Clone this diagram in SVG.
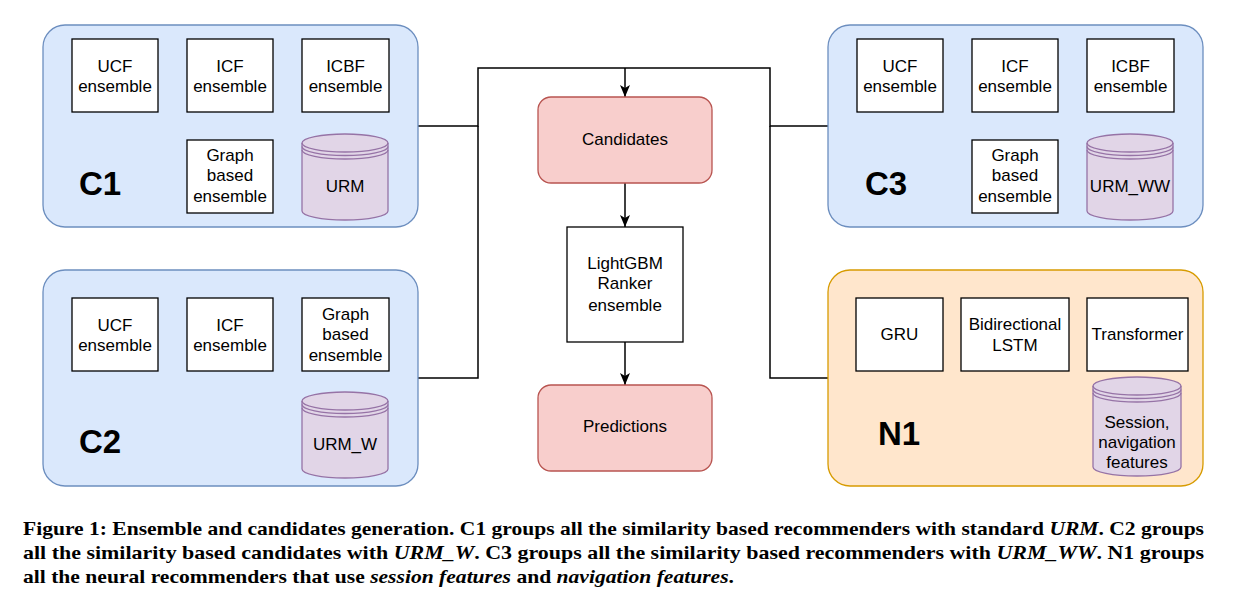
<svg xmlns="http://www.w3.org/2000/svg" width="1236" height="598" viewBox="0 0 1236 598">
<style>
.grpB{fill:#dae8fc;stroke:#6c8ebf;stroke-width:1.3}
.grpO{fill:#ffe6cc;stroke:#d79b00;stroke-width:1.3}
.box{fill:#ffffff;stroke:#000000;stroke-width:1.3}
.red{fill:#f8cecc;stroke:#b85450;stroke-width:1.3}
.cyl{fill:#e1d5e7;stroke:#9673a6;stroke-width:1.3}
.cylL{fill:none;stroke:#9673a6;stroke-width:1.3}
.t{font-family:"Liberation Sans",Arial,sans-serif;font-size:17px;fill:#000;text-anchor:middle}
.big{font-family:"Liberation Sans",Arial,sans-serif;font-size:33px;font-weight:bold;fill:#000}
.conn{fill:none;stroke:#000;stroke-width:1.5}
.cap{font-family:"Liberation Serif","Times New Roman",serif;font-size:19px;font-weight:bold;fill:#000}
</style>
<defs>
<marker id="arrow" viewBox="0 0 12 10" refX="12" refY="5" markerWidth="12" markerHeight="10" markerUnits="userSpaceOnUse" orient="auto">
<path d="M0,0 L12,5 L0,10 L3,5 Z" fill="#000"/>
</marker>
</defs>
<rect width="1236" height="598" fill="#ffffff"/>

<g id="connectors">
<path class="conn" d="M418,126 H478 V68 H770 V126 H828"/>
<path class="conn" d="M418,378 H478 V126"/>
<path class="conn" d="M828,378 H770 V126"/>
<path class="conn" d="M625,68 V97" marker-end="url(#arrow)"/>
<path class="conn" d="M625,183 V227" marker-end="url(#arrow)"/>
<path class="conn" d="M625,342 V385" marker-end="url(#arrow)"/>
</g>

<g id="C1">
<rect class="grpB" x="43" y="25" width="375" height="202" rx="22"/>
<text class="big" x="79" y="195">C1</text>
<g id="C1-ucf"><rect class="box" x="72" y="39" width="86" height="73"/><text class="t" x="115" y="72">UCF</text><text class="t" x="115" y="92">ensemble</text></g>
<g id="C1-icf"><rect class="box" x="187" y="39" width="86" height="73"/><text class="t" x="230" y="72">ICF</text><text class="t" x="230" y="92">ensemble</text></g>
<g id="C1-icbf"><rect class="box" x="302" y="39" width="87" height="73"/><text class="t" x="345.5" y="72">ICBF</text><text class="t" x="345.5" y="92">ensemble</text></g>
<g id="C1-graph"><rect class="box" x="187" y="140" width="86" height="73"/><text class="t" x="230" y="161">Graph</text><text class="t" x="230" y="181">based</text><text class="t" x="230" y="202">ensemble</text></g>
<g id="C1-urm">
<path class="cyl" d="M302,143 A43,9 0 0 1 388,143 V211 A43,9 0 0 1 302,211 Z"/>
<path class="cylL" d="M302,143 A43,9 0 0 0 388,143 M302,146.5 A43,9 0 0 0 388,146.5 M302,150 A43,9 0 0 0 388,150"/>
<text class="t" x="345" y="192">URM</text>
</g>
</g>

<g id="C2">
<rect class="grpB" x="43" y="270" width="375" height="216" rx="22"/>
<text class="big" x="79" y="453">C2</text>
<g id="C2-ucf"><rect class="box" x="72" y="298" width="86" height="73"/><text class="t" x="115" y="331">UCF</text><text class="t" x="115" y="351">ensemble</text></g>
<g id="C2-icf"><rect class="box" x="187" y="298" width="86" height="73"/><text class="t" x="230" y="331">ICF</text><text class="t" x="230" y="351">ensemble</text></g>
<g id="C2-graph"><rect class="box" x="302" y="298" width="87" height="73"/><text class="t" x="345.5" y="320">Graph</text><text class="t" x="345.5" y="340">based</text><text class="t" x="345.5" y="361">ensemble</text></g>
<g id="C2-urmw">
<path class="cyl" d="M302,401 A43,9 0 0 1 388,401 V469 A43,9 0 0 1 302,469 Z"/>
<path class="cylL" d="M302,401 A43,9 0 0 0 388,401 M302,404.5 A43,9 0 0 0 388,404.5 M302,408 A43,9 0 0 0 388,408"/>
<text class="t" x="345" y="450">URM_W</text>
</g>
</g>

<g id="C3">
<rect class="grpB" x="828" y="25" width="375" height="202" rx="22"/>
<text class="big" x="865" y="195">C3</text>
<g id="C3-ucf"><rect class="box" x="857" y="39" width="86" height="73"/><text class="t" x="900" y="72">UCF</text><text class="t" x="900" y="92">ensemble</text></g>
<g id="C3-icf"><rect class="box" x="972" y="39" width="86" height="73"/><text class="t" x="1015" y="72">ICF</text><text class="t" x="1015" y="92">ensemble</text></g>
<g id="C3-icbf"><rect class="box" x="1087" y="39" width="87" height="73"/><text class="t" x="1130.5" y="72">ICBF</text><text class="t" x="1130.5" y="92">ensemble</text></g>
<g id="C3-graph"><rect class="box" x="972" y="140" width="86" height="73"/><text class="t" x="1015" y="161">Graph</text><text class="t" x="1015" y="181">based</text><text class="t" x="1015" y="202">ensemble</text></g>
<g id="C3-urmww">
<path class="cyl" d="M1087,143 A43,9 0 0 1 1173,143 V211 A43,9 0 0 1 1087,211 Z"/>
<path class="cylL" d="M1087,143 A43,9 0 0 0 1173,143 M1087,146.5 A43,9 0 0 0 1173,146.5 M1087,150 A43,9 0 0 0 1173,150"/>
<text class="t" x="1130" y="192">URM_WW</text>
</g>
</g>

<g id="N1">
<rect class="grpO" x="828" y="270" width="375" height="216" rx="22"/>
<text class="big" x="878" y="445">N1</text>
<g id="N1-gru"><rect class="box" x="856" y="298" width="87" height="73"/><text class="t" x="899.5" y="340">GRU</text></g>
<g id="N1-lstm"><rect class="box" x="961" y="298" width="108" height="73"/><text class="t" x="1015" y="330">Bidirectional</text><text class="t" x="1015" y="351">LSTM</text></g>
<g id="N1-trans"><rect class="box" x="1087" y="298" width="101" height="73"/><text class="t" x="1137.5" y="340">Transformer</text></g>
<g id="N1-feat">
<path class="cyl" d="M1093,386 A44,9 0 0 1 1181,386 V467 A44,9 0 0 1 1093,467 Z"/>
<path class="cylL" d="M1093,386 A44,9 0 0 0 1181,386 M1093,389.5 A44,9 0 0 0 1181,389.5 M1093,393 A44,9 0 0 0 1181,393"/>
<text class="t" x="1137" y="428">Session,</text><text class="t" x="1137" y="448">navigation</text><text class="t" x="1137" y="468">features</text>
</g>
</g>

<g id="candidates"><rect class="red" x="538" y="97" width="174" height="86" rx="13"/><text class="t" x="625" y="145">Candidates</text></g>
<g id="lightgbm"><rect class="box" x="567" y="227" width="116" height="115"/><text class="t" x="625" y="269">LightGBM</text><text class="t" x="625" y="289">Ranker</text><text class="t" x="625" y="311">ensemble</text></g>
<g id="predictions"><rect class="red" x="538" y="385" width="174" height="86" rx="13"/><text class="t" x="625" y="432">Predictions</text></g>

<g id="caption">
<text class="cap" x="23" y="535" textLength="1181" lengthAdjust="spacingAndGlyphs">Figure 1: Ensemble and candidates generation. C1 groups all the similarity based recommenders with standard <tspan font-style="italic">URM</tspan>. C2 groups</text>
<text class="cap" x="23" y="559" textLength="1181" lengthAdjust="spacingAndGlyphs">all the similarity based candidates with <tspan font-style="italic">URM_W</tspan>. C3 groups all the similarity based recommenders with <tspan font-style="italic">URM_WW</tspan>. N1 groups</text>
<text class="cap" x="23" y="583" textLength="711" lengthAdjust="spacingAndGlyphs">all the neural recommenders that use <tspan font-style="italic">session features</tspan> and <tspan font-style="italic">navigation features</tspan>.</text>
</g>
</svg>
